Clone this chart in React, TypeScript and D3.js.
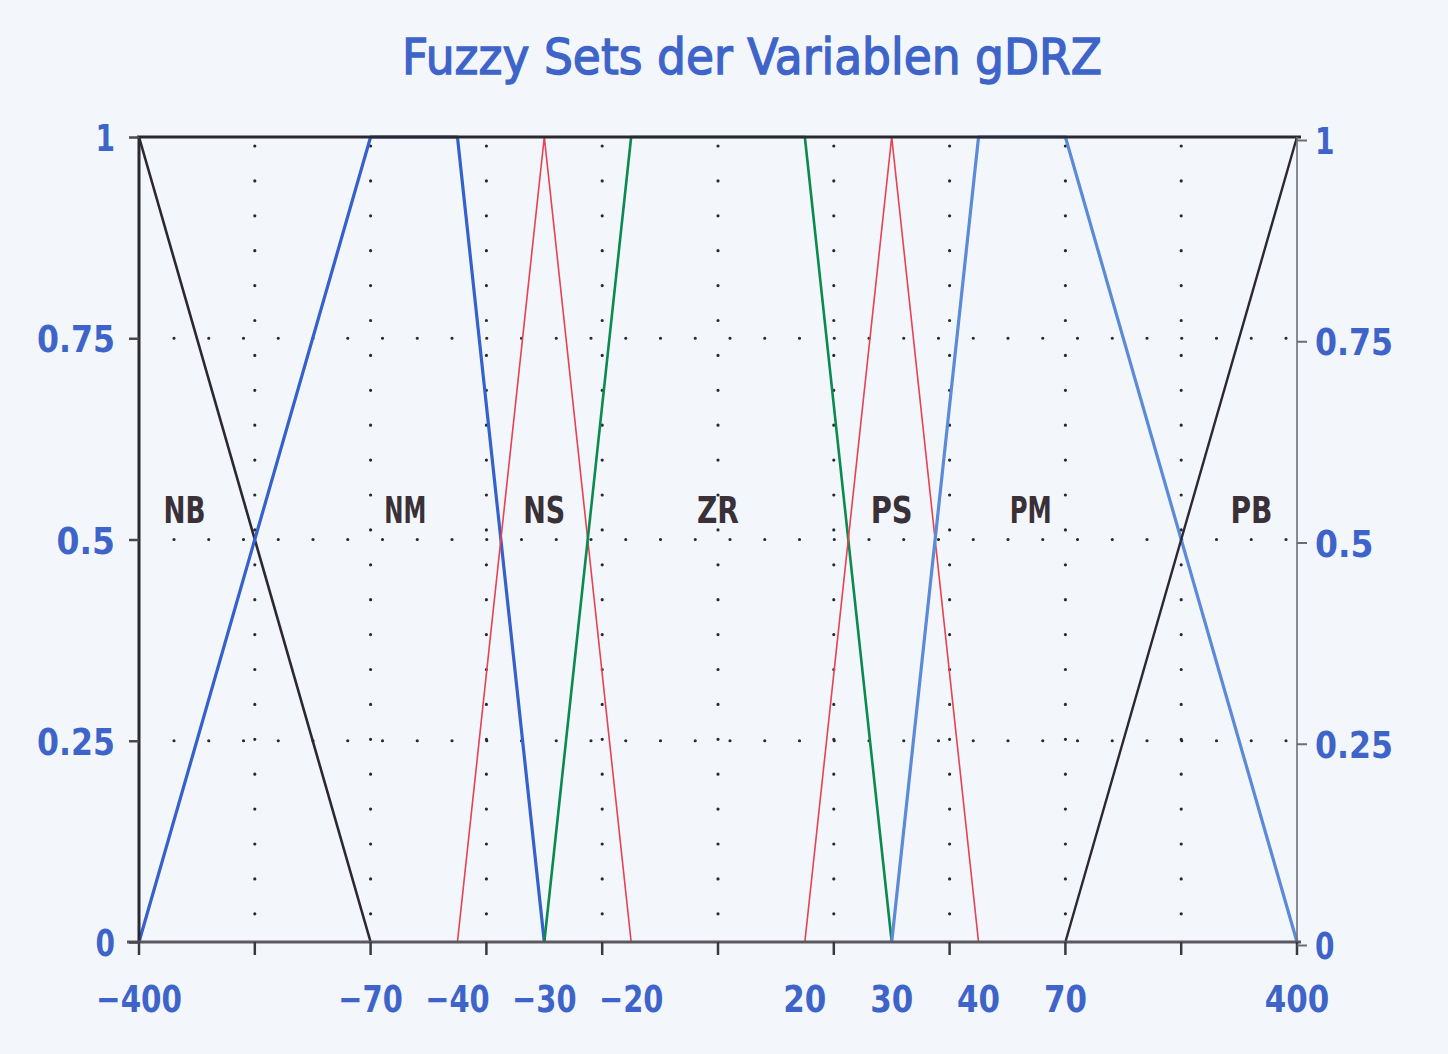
import React, { useRef, useEffect } from "react";
import * as d3 from "d3";

// x axis is piecewise: value breakpoints and where they sit on the 0..10 grid
const xBreaks = [-400, -70, -40, -30, -20, 20, 30, 40, 70, 400];
const xBreakGrid = [0, 2, 2.75, 3.5, 4.25, 5.75, 6.5, 7.25, 8, 10];
const xTickLabels = ["−400", "−70", "−40", "−30", "−20", "20", "30", "40", "70", "400"];
const gridSteps = [0, 1, 2, 3, 4, 5, 6, 7, 8, 9, 10];
const yTicks = [0, 0.25, 0.5, 0.75, 1];
const yGridLines = [0.25, 0.5, 0.75];

// fuzzy sets (x in data units, membership 0..1)
const setNames = ["NB", "NM", "NS", "ZR", "PS", "PM", "PB"];
const nbX = [-400, -70], nbY = [1, 0];
const nmX = [-400, -70, -40, -30], nmY = [0, 1, 1, 0];
const nsX = [-40, -30, -20], nsY = [0, 1, 0];
const zrX = [-30, -20, 20, 30], zrY = [0, 1, 1, 0];
const psX = [20, 30, 40], psY = [0, 1, 0];
const pmX = [30, 40, 70, 400], pmY = [0, 1, 1, 0];
const pbX = [70, 400], pbY = [0, 1];
const labelX = [-335, -58, -30, 0, 30, 58, 335];
const labelY = 0.52;

const W = 1448, H = 1054;
const left = 139, right = 1297, top = 137, bottom = 942;

const setStyle: Record<string, { c: string; w: number }> = {
  NB: { c: "#2d2733", w: 2.6 },
  NM: { c: "#3561cc", w: 3.2 },
  NS: { c: "#e8414f", w: 1.6 },
  ZR: { c: "#0a8a4e", w: 2.6 },
  PS: { c: "#e8414f", w: 1.6 },
  PM: { c: "#5b8ad8", w: 3.2 },
  PB: { c: "#2d2733", w: 2.4 },
};

const blue = "#3f64c9";
const font = "'DejaVu Sans', sans-serif";

function App() {
  const svgRef = useRef<SVGSVGElement>(null);

  useEffect(() => {
    const svg = d3.select(svgRef.current);
    svg.selectAll("*").remove();

    const gridScale = d3.scaleLinear().domain([0, 10]).range([left, right]);
    const xScale = d3.scaleLinear().domain(xBreaks).range(xBreakGrid.map(gridScale));
    const yScale = d3.scaleLinear().domain([0, 1]).range([bottom, top]);

    svg.append("rect").attr("width", W).attr("height", H).attr("fill", "#f3f7fb");

    // Title (plotter look: thin strokes, wide spacing)
    svg.append("text")
      .attr("x", 752).attr("y", 74)
      .attr("text-anchor", "middle")
      .attr("font-family", font).attr("font-size", 50)
      .attr("fill", blue).attr("stroke", blue).attr("stroke-width", 1.4)
      .attr("textLength", 700).attr("lengthAdjust", "spacingAndGlyphs")
      .text("Fuzzy Sets der Variablen gDRZ");

    // dotted grid
    svg.selectAll(".vgrid")
      .data(gridSteps.slice(1, -1))
      .join("line")
      .attr("x1", (d) => gridScale(d)).attr("x2", (d) => gridScale(d))
      .attr("y1", top + 9).attr("y2", bottom - 5)
      .attr("stroke", "#2a2a2a").attr("stroke-width", 3.2)
      .attr("stroke-linecap", "round").attr("stroke-dasharray", "0 34.9");

    svg.selectAll(".hgrid")
      .data(yGridLines)
      .join("line")
      .attr("x1", left + 35).attr("x2", right - 5)
      .attr("y1", (d) => yScale(d)).attr("y2", (d) => yScale(d))
      .attr("stroke", "#2a2a2a").attr("stroke-width", 3.2)
      .attr("stroke-linecap", "round").attr("stroke-dasharray", "0 34.75");

    // fuzzy set lines
    const sets = [
      { name: setNames[0], xs: nbX, ys: nbY },
      { name: setNames[1], xs: nmX, ys: nmY },
      { name: setNames[2], xs: nsX, ys: nsY },
      { name: setNames[3], xs: zrX, ys: zrY },
      { name: setNames[4], xs: psX, ys: psY },
      { name: setNames[5], xs: pmX, ys: pmY },
      { name: setNames[6], xs: pbX, ys: pbY },
    ];
    const line = d3.line<[number, number]>()
      .x((d) => xScale(d[0]))
      .y((d) => yScale(d[1]));

    svg.selectAll(".set")
      .data(sets)
      .join("path")
      .attr("d", (s) => line(s.xs.map((x, i) => [x, s.ys[i]] as [number, number])))
      .attr("fill", "none")
      .attr("stroke", (s) => setStyle[s.name].c)
      .attr("stroke-width", (s) => setStyle[s.name].w)
      .attr("stroke-linejoin", "round");

    // frame: top, left, right
    svg.append("line")
      .attr("x1", left - 2).attr("x2", right + 4)
      .attr("y1", top).attr("y2", top)
      .attr("stroke", "#2b2830").attr("stroke-width", 3);
    svg.append("line")
      .attr("x1", left).attr("x2", left)
      .attr("y1", top).attr("y2", bottom)
      .attr("stroke", "#2b2830").attr("stroke-width", 3);
    svg.append("line")
      .attr("x1", right).attr("x2", right)
      .attr("y1", top).attr("y2", bottom)
      .attr("stroke", "#6f6b75").attr("stroke-width", 1.6);

    // bottom axis: ticks on the regular grid, labels at the breakpoints
    const xAxisG = svg.append("g").attr("transform", `translate(0,${bottom})`);
    xAxisG.append("line")
      .attr("x1", left - 12).attr("x2", right + 4)
      .attr("stroke", "#5a5860").attr("stroke-width", 3);
    xAxisG.selectAll(".xtick")
      .data(gridSteps)
      .join("line")
      .attr("x1", (d) => gridScale(d)).attr("x2", (d) => gridScale(d))
      .attr("y1", 0).attr("y2", 13)
      .attr("stroke", "#3a3840").attr("stroke-width", 2.5);
    xAxisG.selectAll(".xlabel")
      .data(xBreaks)
      .join("text")
      .attr("x", (d) => xScale(d))
      .attr("y", 70)
      .attr("text-anchor", "middle")
      .attr("font-family", font).attr("font-size", 38).attr("font-weight", "bold")
      .attr("fill", blue)
      .attr("textLength", (d, i) => xTickLabels[i].length * 21.5)
      .attr("lengthAdjust", "spacingAndGlyphs")
      .text((d, i) => xTickLabels[i]);

    const styleYText = (g: any) => g.selectAll(".tick text")
      .attr("font-family", font).attr("font-size", 38).attr("font-weight", "bold")
      .attr("fill", blue).attr("dy", "0.36em")
      .attr("textLength", (d: number) => String(d).length * 19.5)
      .attr("lengthAdjust", "spacingAndGlyphs");

    // left axis
    const yLeft = d3.axisLeft(yScale).tickValues(yTicks).tickSize(10).tickPadding(14)
      .tickFormat((d) => String(d));
    svg.append("g")
      .attr("transform", `translate(${left},0)`)
      .call(yLeft)
      .call((g) => g.select(".domain").remove())
      .call((g) => g.selectAll(".tick line").attr("stroke", "#4a4850").attr("stroke-width", 2.5))
      .call(styleYText);

    // right axis
    const yRight = d3.axisRight(yScale).tickValues(yTicks).tickSize(10).tickPadding(8)
      .tickFormat((d) => String(d));
    svg.append("g")
      .attr("transform", `translate(${right},3)`)
      .call(yRight)
      .call((g) => g.select(".domain").remove())
      .call((g) => g.selectAll(".tick line").attr("stroke", "#6f6b75").attr("stroke-width", 2))
      .call(styleYText);

    // set labels
    svg.selectAll(".setlabel")
      .data(setNames)
      .join("text")
      .attr("x", (d, i) => xScale(labelX[i]))
      .attr("y", yScale(labelY))
      .attr("text-anchor", "middle")
      .attr("font-family", font).attr("font-size", 38).attr("font-weight", "bold")
      .attr("fill", "#3a3038")
      .attr("textLength", 42).attr("lengthAdjust", "spacingAndGlyphs")
      .text((d) => d);
  }, []);

  return (
    <svg
      ref={svgRef}
      width={W}
      height={H}
      style={{ position: "absolute", left: 0, top: 0, display: "block" }}
    />
  );
}

export default App;
